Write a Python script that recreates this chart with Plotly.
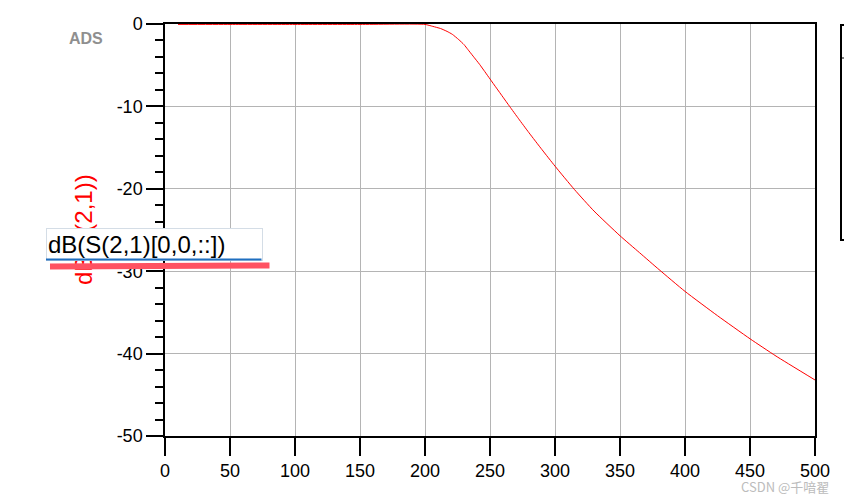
import plotly.graph_objects as go

# ---- data ----
freq = [10, 50, 100, 150, 200, 206, 212, 217, 221, 226, 230, 233, 237, 242, 246,
        250, 255, 260, 265, 272, 280, 290, 300, 315, 330, 350, 365, 380, 400,
        425, 450, 470, 500]
s21_db = [-0.05, -0.05, -0.05, -0.05, -0.05, -0.29, -0.55, -0.9, -1.25, -1.9, -2.5,
          -3.1, -3.9, -4.9, -5.78, -6.67, -7.78, -8.88, -9.98, -11.5, -13.2, -15.25,
          -17.25, -20.1, -22.7, -25.7, -27.75, -29.8, -32.45, -35.4, -38.2, -40.3,
          -43.2]
x_ticks = [0, 50, 100, 150, 200, 250, 300, 350, 400, 450, 500]
y_ticks = [0, -10, -20, -30, -40, -50]

FONT = "Liberation Sans, Arial, sans-serif"

fig = go.Figure()
fig.add_trace(go.Scatter(
    x=freq, y=s21_db, mode="lines",
    line=dict(color="#ff0000", width=1, shape="spline", smoothing=0.5),
    showlegend=False, hoverinfo="skip",
))

# figure fills the window (body margin removed by post_script below)
FIG_W, FIG_H = 844, 499
L, R, T, B = 165, 815, 24, 436
W, H = R - L, B - T
def px(x):
    return (x - L) / W
def py(y):
    return (B - y) / H

fig.update_layout(
    width=FIG_W, height=FIG_H,
    margin=dict(l=L, r=FIG_W - R, t=T, b=FIG_H - B, autoexpand=False),
    paper_bgcolor="white", plot_bgcolor="white",
    font=dict(family=FONT, color="black"),
    xaxis=dict(
        range=[0, 500], tickvals=x_ticks, ticktext=[str(v) for v in x_ticks],
        showgrid=True, gridcolor="#b4b4b4", gridwidth=1,
        showline=True, linecolor="black", linewidth=1.5, mirror=True,
        ticks="outside", ticklen=18, tickcolor="black", tickwidth=1.5,
        tickfont=dict(size=18, family=FONT, color="black"),
        zeroline=False,
    ),
    yaxis=dict(
        range=[-50, 0], tickvals=y_ticks, ticktext=[str(v) for v in y_ticks],
        showgrid=True, gridcolor="#b4b4b4", gridwidth=1,
        showline=True, linecolor="black", linewidth=1.5, mirror=True,
        ticks="outside", ticklen=17, tickcolor="black", tickwidth=1.5,
        tickfont=dict(size=18, family=FONT, color="black"),
        minor=dict(dtick=2, ticks="outside", ticklen=8, tickcolor="black",
                   tickwidth=1.5, showgrid=False),
        zeroline=False,
    ),
)

annotations = [
    # ADS logo text
    dict(text="<b>ADS</b>", x=px(86), y=py(39), xref="paper", yref="paper",
         showarrow=False, xanchor="center", yanchor="middle",
         font=dict(family=FONT, size=16, color="#8f8f8f")),
    # red y-axis title (partly covered by the edit box)
    dict(text="dB(S(2,1))", x=px(83), y=py(230), xref="paper", yref="paper",
         textangle=-90, showarrow=False, xanchor="center", yanchor="middle",
         font=dict(family=FONT, size=24, color="#ff0000")),
    # edit box over the title
    dict(text="dB(S(2,1)[0,0,::])", x=px(46), y=py(228), xref="paper", yref="paper",
         showarrow=False, xanchor="left", yanchor="top", align="left",
         width=213, height=29, borderpad=1, borderwidth=1,
         bordercolor="#d4dde6", bgcolor="white",
         font=dict(family=FONT, size=24, color="black")),
    # blue underline of the edit box
    dict(text="", x=px(46), y=py(259.5), xref="paper", yref="paper",
         showarrow=True, arrowhead=0, arrowwidth=2, arrowcolor="#1f6fc0",
         ax=217, ay=0, standoff=0, startstandoff=0),
    # red highlighter stroke
    dict(text="", x=px(50), y=py(266.5), xref="paper", yref="paper",
         showarrow=True, arrowhead=0, arrowwidth=6, arrowcolor="#ff5262",
         ax=221, ay=-1, standoff=0, startstandoff=0),
    # watermark
    dict(text="CSDN @千喑翟", x=px(831), y=py(486), xref="paper", yref="paper",
         showarrow=False, xanchor="right", yanchor="middle",
         font=dict(family="Noto Sans CJK SC", size=13, color="#bcbcbc")),
]
fig.update_layout(annotations=annotations)

# partially visible legend box at the right edge
fig.add_shape(type="rect", xref="paper", yref="paper",
              x0=px(841), x1=px(860), y0=py(240), y1=py(25),
              line=dict(color="black", width=2), fillcolor="rgba(0,0,0,0)")
fig.add_shape(type="line", xref="paper", yref="paper",
              x0=px(841), x1=px(860), y0=py(58), y1=py(58),
              line=dict(color="black", width=1))

fig.write_html(
    "out.html",
    config={"displayModeBar": False},
    post_script="document.body.style.margin='0';document.body.style.overflow='hidden';",
)
